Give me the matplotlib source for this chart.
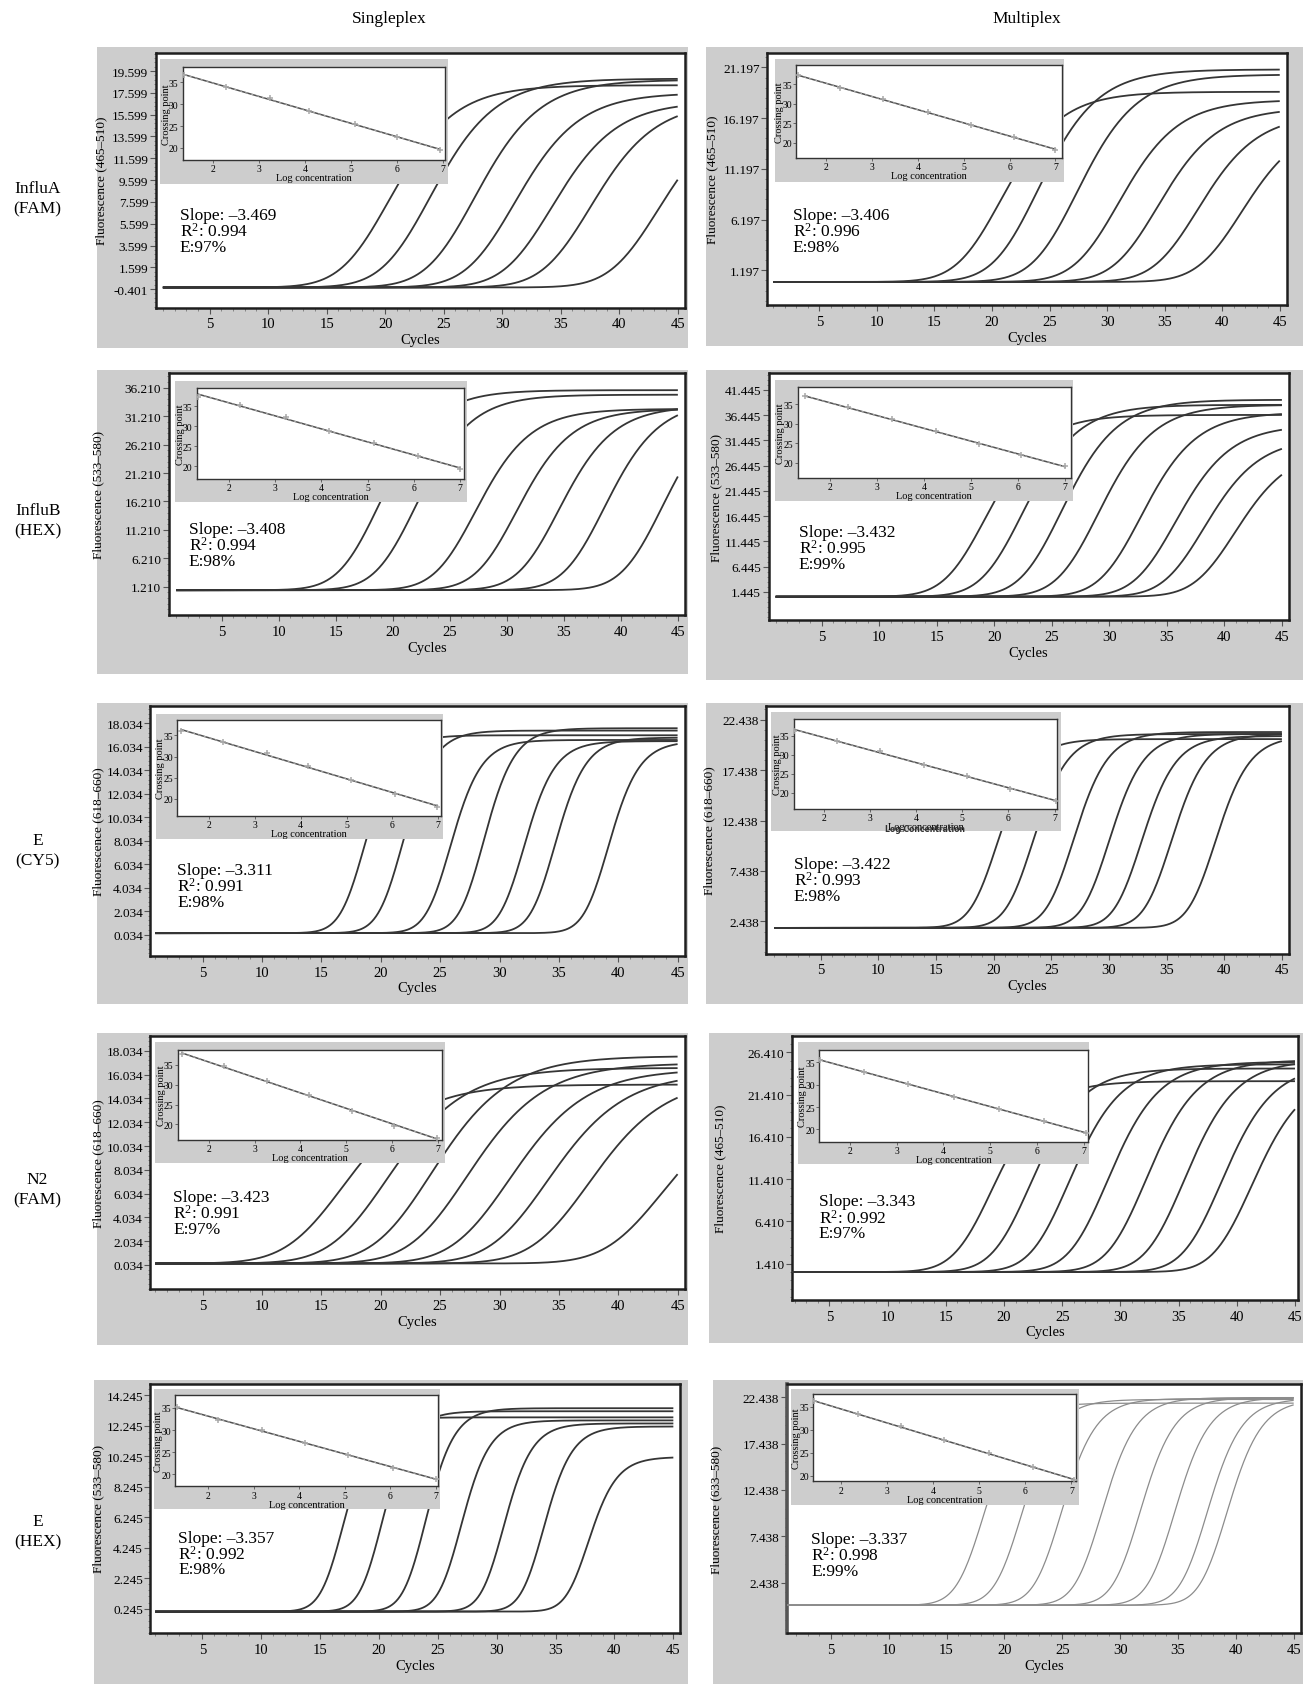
import numpy as np
import matplotlib
matplotlib.use('Agg')
import matplotlib.pyplot as plt
from matplotlib.patches import Rectangle
from matplotlib.ticker import AutoMinorLocator, MultipleLocator, FixedLocator

plt.rcParams['font.family'] = ['Liberation Serif', 'DejaVu Serif']
plt.rcParams['mathtext.fontset'] = 'custom'
plt.rcParams['mathtext.rm'] = 'Liberation Serif'
plt.rcParams['mathtext.it'] = 'Liberation Serif:italic'

# ---------------- data ----------------
column_titles = ["Singleplex", "Multiplex"]
row_labels = ["InfluA\n(FAM)", "InfluB\n(HEX)", "E\n(CY5)", "N2\n(FAM)", "E\n(HEX)"]
cycle_ticks = [5, 10, 15, 20, 25, 30, 35, 40, 45]

# panels in order: row1 single, row1 multi, row2 single, ...
y_labels = ["Fluorescence (465–510)", "Fluorescence (465–510)",
            "Fluorescence (533–580)", "Fluorescence (533–580)",
            "Fluorescence (618–660)", "Fluorescence (618–660)",
            "Fluorescence (618–660)", "Fluorescence (465–510)",
            "Fluorescence (533–580)", "Fluorescence (633–580)"]

yticks_influA_s = [-0.401, 1.599, 3.599, 5.599, 7.599, 9.599, 11.599, 13.599, 15.599, 17.599, 19.599]
yticks_influA_m = [1.197, 6.197, 11.197, 16.197, 21.197]
yticks_influB_s = [1.210, 6.210, 11.210, 16.210, 21.210, 26.210, 31.210, 36.210]
yticks_influB_m = [1.445, 6.445, 11.445, 16.445, 21.445, 26.445, 31.445, 36.445, 41.445]
yticks_Ecy5_s = [0.034, 2.034, 4.034, 6.034, 8.034, 10.034, 12.034, 14.034, 16.034, 18.034]
yticks_Ecy5_m = [2.438, 7.438, 12.438, 17.438, 22.438]
yticks_N2_s = [0.034, 2.034, 4.034, 6.034, 8.034, 10.034, 12.034, 14.034, 16.034, 18.034]
yticks_N2_m = [1.410, 6.410, 11.410, 16.410, 21.410, 26.410]
yticks_Ehex_s = [0.245, 2.245, 4.245, 6.245, 8.245, 10.245, 12.245, 14.245]
yticks_Ehex_m = [2.438, 7.438, 12.438, 17.438, 22.438]
yticks_all = [yticks_influA_s, yticks_influA_m, yticks_influB_s, yticks_influB_m,
              yticks_Ecy5_s, yticks_Ecy5_m, yticks_N2_s, yticks_N2_m,
              yticks_Ehex_s, yticks_Ehex_m]

slopes = ["–3.469", "–3.406", "–3.408", "–3.432", "–3.311",
          "–3.422", "–3.423", "–3.343", "–3.357", "–3.337"]
r_squared = ["0.994", "0.996", "0.994", "0.995", "0.991",
             "0.993", "0.991", "0.992", "0.992", "0.998"]
efficiency = ["97%", "98%", "98%", "99%", "98%", "98%", "97%", "97%", "98%", "99%"]

# amplification curves: half-plateau cycle and plateau per dilution
ct_influA_s = [21.0, 24.5, 28.3, 31.7, 34.9, 38.2, 44.0]
pl_influA_s = [18.3, 18.9, 18.8, 17.6, 16.8, 16.8, 16.3]
ct_influA_m = [21.4, 24.6, 28.0, 31.6, 35.0, 38.5, 42.3]
pl_influA_m = [18.8, 21.0, 20.5, 18.0, 17.2, 16.6, 16.0]
ct_influB_s = [19.4, 22.6, 27.8, 31.4, 35.1, 39.1, 44.2]
pl_influB_s = [35.8, 35.0, 32.5, 32.5, 33.0, 34.0, 34.5]
ct_influB_m = [19.8, 23.0, 26.4, 29.6, 33.3, 36.3, 38.8, 41.5]
pl_influB_m = [36.5, 38.5, 39.5, 38.5, 37.0, 34.5, 32.0, 30.0]
ct_Ecy5_s = [18.9, 22.1, 26.1, 28.9, 32.3, 34.9, 39.4]
pl_Ecy5_s = [17.0, 17.4, 16.6, 17.6, 16.5, 16.8, 16.5]
ct_Ecy5_m = [20.6, 23.7, 27.2, 30.3, 33.1, 35.7, 39.5]
pl_Ecy5_m = [20.5, 21.0, 21.2, 21.0, 20.8, 21.0, 20.8]
ct_N2_s = [17.6, 21.3, 25.0, 28.0, 31.6, 34.8, 38.3, 44.5]
pl_N2_s = [15.2, 16.6, 17.6, 17.0, 16.5, 16.2, 15.8, 14.0]
ct_N2_m = [19.5, 22.8, 26.1, 29.4, 32.7, 36.0, 39.2, 41.8]
pl_N2_m = [23.0, 24.5, 25.0, 25.3, 25.5, 25.5, 25.0, 24.0]
ct_Ehex_s = [17.2, 20.5, 24.2, 27.2, 30.8, 34.2, 38.0]
pl_Ehex_s = [12.8, 13.2, 13.4, 12.6, 12.4, 12.2, 10.2]
ct_Ehex_m = [18.5, 21.8, 25.2, 28.7, 32.0, 35.0, 37.8, 39.5]
pl_Ehex_m = [21.8, 22.2, 22.3, 22.4, 22.4, 22.4, 22.3, 22.2]
ct_all = [ct_influA_s, ct_influA_m, ct_influB_s, ct_influB_m, ct_Ecy5_s,
          ct_Ecy5_m, ct_N2_s, ct_N2_m, ct_Ehex_s, ct_Ehex_m]
pl_all = [pl_influA_s, pl_influA_m, pl_influB_s, pl_influB_m, pl_Ecy5_s,
          pl_Ecy5_m, pl_N2_s, pl_N2_m, pl_Ehex_s, pl_Ehex_m]
baseline = [-0.25, 0.05, 0.6, 0.5, 0.15, 1.8, 0.15, 0.4, 0.05, 0.0]
rise_width = [3.0, 2.8, 2.6, 2.6, 1.4, 1.6, 3.5, 2.4, 1.3, 1.6]
rise_asym = [2.5, 2.5, 2.5, 2.5, 2.0, 2.0, 2.5, 2.5, 2.0, 2.0]

# standard curves (insets): log concentration vs crossing point
log_influA_s = [1.36, 2.28, 3.24, 4.08, 5.08, 6.00, 6.93]
cp_influA_s = [36.6, 33.8, 31.3, 28.45, 25.5, 22.5, 19.6]
log_influA_m = [1.38, 2.31, 3.24, 4.21, 5.16, 6.09, 7.00]
cp_influA_m = [37.3, 34.1, 31.3, 27.8, 24.7, 21.4, 18.2]
log_influB_s = [1.34, 2.23, 3.24, 4.16, 5.14, 6.09, 7.00]
cp_influB_s = [37.4, 35.3, 32.4, 28.9, 25.9, 22.5, 19.3]
log_influB_m = [1.48, 2.39, 3.32, 4.25, 5.17, 6.07, 7.00]
cp_influB_m = [37.0, 34.2, 31.1, 28.1, 24.9, 21.9, 19.05]
log_Ecy5_s = [1.40, 2.31, 3.26, 4.16, 5.09, 6.05, 6.98]
cp_Ecy5_s = [36.0, 33.4, 30.8, 27.7, 24.5, 21.2, 18.2]
log_Ecy5_m = [1.37, 2.28, 3.21, 4.17, 5.11, 6.04, 7.02]
cp_Ecy5_m = [36.4, 33.7, 30.9, 27.4, 24.4, 21.0, 17.8]
log_N2_s = [1.41, 2.34, 3.27, 4.19, 5.14, 6.05, 6.98]
cp_N2_s = [37.7, 34.6, 31.0, 27.4, 23.4, 19.7, 16.5]
log_N2_m = [1.36, 2.31, 3.25, 4.22, 5.19, 6.15, 7.04]
cp_N2_m = [35.5, 32.9, 30.2, 27.3, 24.6, 21.8, 19.2]
log_Ehex_s = [1.32, 2.22, 3.19, 4.14, 5.08, 6.06, 7.00]
cp_Ehex_s = [35.15, 32.3, 29.9, 27.1, 24.4, 21.5, 19.0]
log_Ehex_m = [1.41, 2.37, 3.29, 4.24, 5.20, 6.16, 7.06]
cp_Ehex_m = [36.1, 33.3, 30.8, 27.7, 24.9, 21.9, 19.1]
log_all = [log_influA_s, log_influA_m, log_influB_s, log_influB_m, log_Ecy5_s,
           log_Ecy5_m, log_N2_s, log_N2_m, log_Ehex_s, log_Ehex_m]
cp_all = [cp_influA_s, cp_influA_m, cp_influB_s, cp_influB_m, cp_Ecy5_s,
          cp_Ecy5_m, cp_N2_s, cp_N2_m, cp_Ehex_s, cp_Ehex_m]
inset_xticks = [2, 3, 4, 5, 6, 7]
inset_yticks = [20, 25, 30, 35]

# ---------------- layout (reference pixel frame) ----------------
PW, PH = 1215.0, 1572.0
GRAY = [(90, 45, 640, 325), (657, 45, 1212, 323),
        (90, 345, 640, 628), (657, 345, 1212, 633),
        (90, 655, 640, 935), (657, 655, 1212, 935),
        (90, 962, 640, 1252), (660, 962, 1212, 1250),
        (87, 1285, 640, 1567), (663, 1285, 1212, 1567)]
AXES = [(145, 50, 637, 287), (714, 50, 1197, 285),
        (157, 348, 637, 573), (715, 348, 1199, 578),
        (140, 658, 637, 890), (713, 658, 1199, 888),
        (140, 965, 637, 1200), (737, 965, 1208, 1210),
        (140, 1288, 633, 1520), (732, 1288, 1210, 1520)]
XLIM = [(0.4, 45.6), (0.5, 45.6), (0.35, 45.6), (0.38, 45.6), (0.6, 45.6),
        (0.3, 45.6), (0.6, 45.6), (1.8, 45.3), (0.6, 45.6), (1.2, 45.6)]
YLIM = [(-2.09, 21.28), (-2.26, 22.65), (-3.77, 38.8), (-4.19, 44.78), (-1.78, 19.46),
        (-0.75, 23.74), (-2.0, 19.25), (-2.89, 28.3), (-1.36, 15.01), (-3.0, 23.9)]
YLAB_X = [-0.091, -0.095, -0.125, -0.089, -0.087, -0.097, -0.087, -0.13, -0.087, -0.125]
INS_GRAY = [(0.008, 0.553, 0.0245, 0.517), (0.014, 0.572, 0.023, 0.512),
            (0.0125, 0.578, 0.031, 0.531), (0.012, 0.586, 0.027, 0.518),
            (0.01, 0.548, 0.0295, 0.532), (0.0095, 0.563, 0.023, 0.503),
            (0.0093, 0.551, 0.0226, 0.50), (0.0106, 0.587, 0.022, 0.483),
            (0.0066, 0.547, 0.0227, 0.501), (0.009, 0.568, 0.022, 0.485)]
INS_AX = [(0.051, 0.546, 0.054, 0.422), (0.055, 0.567, 0.050, 0.417),
          (0.054, 0.5725, 0.061, 0.438), (0.056, 0.581, 0.058, 0.425),
          (0.05, 0.543, 0.056, 0.439), (0.052, 0.557, 0.049, 0.416),
          (0.051, 0.546, 0.053, 0.41), (0.053, 0.584, 0.0515, 0.40),
          (0.0465, 0.5435, 0.047, 0.412), (0.051, 0.563, 0.0415, 0.392)]
INS_XLIM = [(1.34, 7.04), (1.34, 7.14), (1.30, 7.09), (1.32, 7.12), (1.31, 7.05),
            (1.35, 7.06), (1.32, 7.1), (1.34, 7.09), (1.28, 7.06), (1.39, 7.1)]
INS_YLIM = [(17.2, 38.55), (16.06, 39.9), (16.85, 39.6), (16.03, 39.3), (15.99, 38.55),
            (15.6, 39.6), (16.07, 38.8), (17.2, 37.8), (17.3, 37.8), (18.8, 37.7)]
TXT = [(0.045, 0.64), (0.049, 0.645), (0.039, 0.647), (0.058, 0.644), (0.05, 0.66),
       (0.052, 0.64), (0.043, 0.64), (0.052, 0.631), (0.052, 0.62), (0.048, 0.625)]
ROW_Y = [185, 485, 792, 1107, 1425]
COL_X = [362, 955]

GRAY_C = '#cdcdcd'


def frac(box):
    x0, y0, x1, y1 = box
    return [x0 / PW, 1 - y1 / PH, (x1 - x0) / PW, (y1 - y0) / PH]


def amp(x, ct, plat, base, s, g):
    t0 = -np.log(2 ** (1.0 / g) - 1)
    x0 = ct - t0 * s
    return base + (plat - base) / (1 + np.exp(-(x - x0) / s)) ** g


fig = plt.figure(figsize=(13.06, 16.90), dpi=100)

for j, t in enumerate(column_titles):
    fig.text(COL_X[j] / PW, 1 - 18 / PH, t, ha='center', va='center', fontsize=12.5)
for r, t in enumerate(row_labels):
    fig.text(35 / PW, 1 - ROW_Y[r] / PH, t, ha='center', va='center',
             fontsize=12.5, linespacing=1.35)

x = np.linspace(1, 45, 500)

for i in range(10):
    fig.patches.append(Rectangle((frac(GRAY[i])[0], frac(GRAY[i])[1]),
                                 frac(GRAY[i])[2], frac(GRAY[i])[3],
                                 transform=fig.transFigure, facecolor=GRAY_C,
                                 edgecolor='none', zorder=-5))
    ax = fig.add_axes(frac(AXES[i]))
    ax.set_facecolor('white')
    multi_light = (i == 9)
    col = '#8c8c8c' if multi_light else '#353535'
    lw = 0.9 if multi_light else 1.3
    for ct, pl in zip(ct_all[i], pl_all[i]):
        ax.plot(x, amp(x, ct, pl, baseline[i], rise_width[i], rise_asym[i]),
                color=col, lw=lw, solid_capstyle='butt', zorder=3)
    ax.set_xlim(*XLIM[i])
    ax.set_ylim(*YLIM[i])
    ax.xaxis.set_major_locator(FixedLocator(cycle_ticks))
    ax.xaxis.set_minor_locator(MultipleLocator(1))
    ax.set_yticks(yticks_all[i])
    ax.set_yticklabels([f"{v:.3f}" for v in yticks_all[i]])
    ax.yaxis.set_minor_locator(AutoMinorLocator(5))
    ax.tick_params(axis='both', which='major', direction='out', length=4,
                   width=0.8, color='#555555')
    ax.tick_params(axis='both', which='minor', direction='out', length=1.8,
                   width=0.6, color='#777777')
    ax.tick_params(axis='x', labelsize=10.5, pad=3)
    ax.tick_params(axis='y', labelsize=9.5, pad=1.5)
    for sp in ax.spines.values():
        sp.set_linewidth(1.8)
        sp.set_color('#1e1e1e')
    if multi_light:
        ax.spines['left'].set_color('#555555')
        ax.spines['left'].set_linewidth(2.6)
    ax.set_xlabel("Cycles", fontsize=10.5, labelpad=2)
    ax.set_ylabel(y_labels[i], fontsize=9.5)
    ax.yaxis.set_label_coords(YLAB_X[i], 0.5)

    # inset gray panel
    gx0, gx1, gyt, gyb = INS_GRAY[i]
    ax.add_patch(Rectangle((gx0, 1 - gyb), gx1 - gx0, gyb - gyt, transform=ax.transAxes,
                           facecolor=GRAY_C, edgecolor='none', zorder=10))
    tx, ty = TXT[i]
    ax.text(tx, 1 - ty + 0.035, f"Slope: {slopes[i]}\nR$^2$: {r_squared[i]}\nE:{efficiency[i]}",
            transform=ax.transAxes, ha='left', va='top', fontsize=12.5,
            linespacing=0.92, zorder=11)

    pos = ax.get_position()
    a0, a1, at, ab = INS_AX[i]
    ins = fig.add_axes([pos.x0 + a0 * pos.width, pos.y0 + (1 - ab) * pos.height,
                        (a1 - a0) * pos.width, (ab - at) * pos.height])
    ins.set_facecolor('white')
    lx = np.array(log_all[i])
    cy = np.array(cp_all[i])
    k, b0 = np.polyfit(lx, cy, 1)
    xl = np.array([lx[0], lx[-1]])
    ins.plot(xl, k * xl + b0, color='#505050', lw=1.1, zorder=2)
    ins.plot(xl, k * xl + b0, color='#b5b5b5', lw=0.6, ls=(0, (3, 4)), zorder=3)
    ins.plot(lx, cy, ls='none', marker='+', ms=4, mew=1.1, color='#a8a8a8', zorder=4)
    ins.set_xlim(*INS_XLIM[i])
    ins.set_ylim(*INS_YLIM[i])
    ins.set_xticks(inset_xticks)
    ins.set_yticks(inset_yticks)
    ins.tick_params(axis='both', which='major', direction='out', length=2, width=0.6,
                    labelsize=7, pad=1, color='#555555')
    for sp in ins.spines.values():
        sp.set_linewidth(1.0)
        sp.set_color('#333333')
    ins.set_xlabel("Log concentration", fontsize=7.5, labelpad=0)
    ins.set_ylabel("Crossing point", fontsize=7.5, labelpad=0)
    ins.yaxis.set_label_coords(-0.045, 0.5)
    if i == 5:
        ins.text(0.5, -0.215, "Log Concentration", transform=ins.transAxes,
                 ha='center', va='center', fontsize=5.5, fontweight='bold',
                 family='DejaVu Sans', color='#333333')

fig.savefig('out.png', dpi=100, facecolor='white')
